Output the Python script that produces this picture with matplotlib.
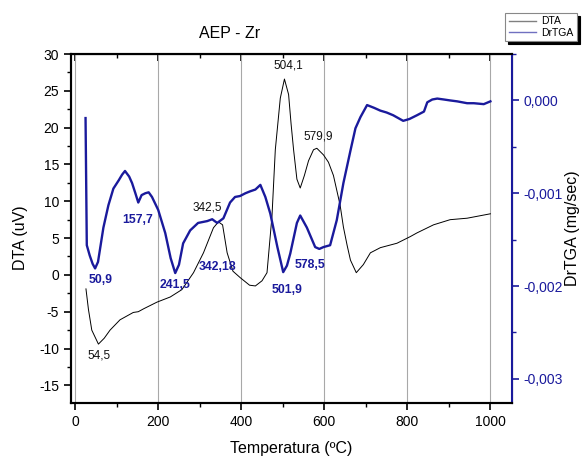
import matplotlib
matplotlib.use('Agg')
import matplotlib.pyplot as plt
from matplotlib.lines import Line2D
from matplotlib.ticker import MultipleLocator, FuncFormatter

plt.rcParams['font.family'] = ['Liberation Sans', 'DejaVu Sans']
plt.rcParams['axes.unicode_minus'] = False

# DTA curve (uV)
dta_t = [26, 32, 40, 56, 70, 84, 108, 140, 152, 165, 197, 229, 257, 285, 309, 333, 345,
         355, 366, 380, 398, 420, 434, 450, 462, 474, 482, 494, 504, 514, 520, 526, 534,
         542, 552, 562, 574, 582, 598, 610, 622, 630, 638, 646, 655, 663, 677, 694, 711,
         735, 775, 807, 823, 863, 903, 944, 1000]
dta_v = [-1.9, -4.7, -7.5, -9.4, -8.6, -7.5, -6.1, -5.1, -5.0, -4.6, -3.7, -3.0, -2.0, 0.3,
         3.0, 6.4, 7.2, 6.8, 3.0, 0.5, -0.4, -1.4, -1.5, -0.8, 0.3, 8.0, 17.0, 24.0, 26.6,
         24.5, 20.5, 17.0, 13.0, 11.8, 13.5, 15.5, 17.0, 17.2, 16.3, 15.3, 13.5, 11.5, 9.5,
         6.5, 4.0, 2.0, 0.3, 1.4, 3.0, 3.7, 4.3, 5.2, 5.7, 6.8, 7.5, 7.7, 8.3]

# DrTGA curve (mg/sec)
tga_t = [25, 28, 35, 42, 48, 55, 68, 80, 92, 105, 113, 120, 130, 137, 145, 152, 160, 169,
         177, 185, 200, 217, 230, 241, 250, 260, 277, 296, 318, 330, 342, 357, 373, 385,
         397, 410, 421, 434, 446, 458, 470, 487, 501, 510, 518, 534, 542, 558, 578, 588,
         598, 614, 630, 646, 663, 675, 687, 703, 720, 735, 750, 766, 790, 805, 823, 840,
         848, 860, 872, 888, 903, 920, 944, 960, 984, 1000]
tga_v = [-0.00019, -0.00156, -0.00167, -0.00176, -0.00181, -0.00174, -0.00137, -0.00113,
         -0.00095, -0.00086, -0.00080, -0.00076, -0.00082, -0.00089, -0.00100, -0.00110,
         -0.00102, -0.00100, -0.00099, -0.00104, -0.00118, -0.00143, -0.00170, -0.00186,
         -0.00177, -0.00154, -0.00140, -0.00132, -0.00130, -0.00128, -0.00132, -0.00127,
         -0.00110, -0.00104, -0.00103, -0.00100, -0.00098, -0.00096, -0.00091, -0.00104,
         -0.00122, -0.00158, -0.00185, -0.00178, -0.00165, -0.00132, -0.00124, -0.00137,
         -0.00158, -0.00160, -0.00158, -0.00156, -0.00129, -0.00089, -0.00054, -0.00030,
         -0.00018, -0.00005, -0.00008, -0.00011, -0.00013, -0.00016, -0.00022, -0.00020,
         -0.00016, -0.00012, -0.00002, 0.00001, 0.00002, 0.00001, 0.00000, -0.00001,
         -0.00003, -0.00003, -0.00004, -0.00001]

dta_labels = [('54,5', 99, -11.0), ('342,5', 207, 9.2), ('504,1', 288, 28.4), ('579,9', 318, 18.8)]
tga_labels = [('50,9', 100, -0.00193), ('157,7', 137, -0.00129), ('241,5', 175, -0.00199),
              ('342,18', 217, -0.00179), ('501,9', 287, -0.00204), ('578,5', 310, -0.00177)]

navy = '#1a1a9c'

fig = plt.figure(figsize=(5.84, 4.59), dpi=100)
ax = fig.add_axes([0.1216, 0.122, 0.7551, 0.7603])
ax2 = ax.twinx()

ax.plot(dta_t, dta_v, color='black', lw=0.7)
ax2.plot(tga_t, tga_v, color=navy, lw=1.7)

ax.set_xlim(-10, 1052)
ax.set_ylim(-17.4, 30)
ax2.set_ylim(-0.00326, 0.0005)

ax.xaxis.set_major_locator(MultipleLocator(200))
ax.xaxis.set_minor_locator(MultipleLocator(100))
ax.yaxis.set_major_locator(MultipleLocator(5))
ax.yaxis.set_minor_locator(MultipleLocator(2.5))
ax2.yaxis.set_major_locator(MultipleLocator(0.001))
ax2.yaxis.set_minor_locator(MultipleLocator(0.0005))
ax2.yaxis.set_major_formatter(FuncFormatter(lambda v, p: ('%.3f' % v).replace('.', ',').replace('-0,000', '0,000')))

ax.grid(axis='x', color='#a8a8a8', lw=0.8)
ax.tick_params(axis='both', which='major', labelsize=10, length=5, width=1.2, direction='out')
ax.tick_params(axis='both', which='minor', length=3, width=1.0, direction='out')
ax2.tick_params(axis='y', which='major', labelsize=10, length=5, width=1.2, colors=navy)
ax2.tick_params(axis='y', which='minor', length=3, width=1.0, colors=navy)
for s in ['left', 'bottom', 'top']:
    ax.spines[s].set_linewidth(1.5)
    ax2.spines[s].set_linewidth(1.5)
ax2.spines['right'].set_color(navy)
ax2.spines['right'].set_linewidth(1.5)

# top ticks point inward
sec = ax.secondary_xaxis('top')
sec.xaxis.set_major_locator(MultipleLocator(200))
sec.xaxis.set_minor_locator(MultipleLocator(100))
sec.tick_params(which='major', direction='in', length=5, width=1.2, labeltop=False)
sec.tick_params(which='minor', direction='in', length=3, width=1.0)

ax.set_xlabel('Temperatura (ºC)', fontsize=11.5, labelpad=9)
ax.set_ylabel('DTA (uV)', fontsize=11.5)
ax.yaxis.set_label_coords(-0.097, 0.473)
ax2.set_ylabel('DrTGA (mg/sec)', fontsize=11.5, color='black')
ax2.yaxis.set_label_coords(1.12, 0.5)

for txt, px, v in dta_labels:
    ax.text((px - 75) / 0.415, v, txt, fontsize=8.5, ha='center', va='center', color='#111111')
for txt, px, v in tga_labels:
    ax2.text((px - 75) / 0.415, v, txt, fontsize=8.8, ha='center', va='center', color=navy, fontweight='bold')

fig.text(230 / 584, 1 - 33 / 459, 'AEP - Zr', fontsize=11.5, ha='center', va='center')

handles = [Line2D([], [], color='#808080', lw=1), Line2D([], [], color='#7070c0', lw=1)]
leg = fig.legend(handles, ['DTA', 'DrTGA'], loc='upper right', bbox_to_anchor=(0.988, 0.972),
                 fontsize=7.5, frameon=True, fancybox=False, handlelength=2.6, labelspacing=0.1,
                 borderpad=0.35, handletextpad=0.5, borderaxespad=0,
                 shadow={'color': 'black', 'alpha': 1})
leg.get_frame().set_edgecolor('#888888')
leg.get_frame().set_linewidth(0.8)

fig.savefig('out.png', dpi=100)
